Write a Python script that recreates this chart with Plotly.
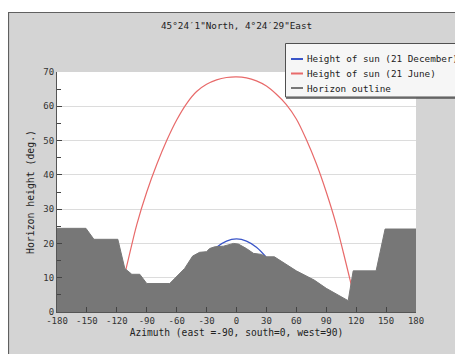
import plotly.graph_objects as go

# ---- data ----
title_text = "45°24′1\"North, 4°24′29\"East"
series_names = ["Height of sun (21 December)", "Height of sun (21 June)", "Horizon outline"]

dec_az = [-60, -50, -40, -30, -20, -10, 0, 10, 20, 30, 40, 50, 60]
dec_h = [1.0, 6.9, 11.9, 15.9, 18.9, 20.7, 21.3, 20.7, 18.9, 15.9, 11.9, 6.9, 1.0]

jun_az = [-118, -110, -100, -90, -80, -70, -60, -50, -40, -30, -20, -10, 0,
          10, 20, 30, 40, 50, 60, 70, 80, 90, 100, 110, 118]
jun_h = [4.0, 13.5, 25.5, 35.0, 43.0, 50.0, 56.0, 60.8, 64.3, 66.4, 67.7, 68.4, 68.6,
         68.3, 67.4, 65.9, 63.5, 60.5, 56.3, 50.3, 43.3, 35.0, 25.5, 14.0, 4.5]

hor_az = [-180, -151, -143, -119, -112, -105, -97, -90, -67, -52, -44, -37, -30, -27,
          -22, -13, -3, 2, 10, 17, 25, 30, 38, 48, 60, 78, 90, 112, 117, 140, 149, 180]
hor_h = [24.4, 24.4, 21.2, 21.2, 12.7, 11.0, 11.0, 8.3, 8.3, 12.7, 16.3, 17.4, 17.6, 18.5,
         19.0, 19.2, 20.0, 19.8, 18.5, 17.1, 16.8, 16.1, 16.1, 14.2, 12.0, 9.3, 6.9, 3.3,
         12.0, 12.0, 24.2, 24.2]

x_ticks = [-180, -150, -120, -90, -60, -30, 0, 30, 60, 90, 120, 150, 180]
y_ticks = [0, 10, 20, 30, 40, 50, 60, 70]

colors = ["#3a55c8", "#e86a6a", "#777777"]
FONT = "DejaVu Sans Mono"

OFF = 8  # page body margin
W, H = 463 - OFF, 354 - OFF
ML, MR, MT, MB = 57 - OFF, 463 - 416, 72 - OFF, 354 - 312
PW, PH = W - ML - MR, H - MT - MB


def px(p):  # screen pixel -> paper x
    return (p - OFF - ML) / PW


def py(p):  # screen pixel -> paper y
    return (H - MB - (p - OFF)) / PH


fig = go.Figure()
fig.add_trace(go.Scatter(x=dec_az, y=dec_h, mode="lines", name=series_names[0],
                         line=dict(color=colors[0], width=1.3, shape="spline"),
                         showlegend=False, hoverinfo="skip"))
fig.add_trace(go.Scatter(x=jun_az, y=jun_h, mode="lines", name=series_names[1],
                         line=dict(color=colors[1], width=1.2, shape="spline"),
                         showlegend=False, hoverinfo="skip"))
fig.add_trace(go.Scatter(x=hor_az, y=hor_h, mode="lines", name=series_names[2],
                         line=dict(color=colors[2], width=1), fill="tozeroy",
                         fillcolor=colors[2], showlegend=False, hoverinfo="skip"))

shapes = [
    # outer white margin at the top
    dict(type="rect", xref="paper", yref="paper", x0=px(0), x1=px(W + 20), y0=py(12), y1=py(0),
         fillcolor="white", line=dict(width=0), layer="above"),
    # panel border
    dict(type="rect", xref="paper", yref="paper", x0=px(8.5), x1=px(W + 30), y0=py(H + 30), y1=py(12.5),
         line=dict(color="#606060", width=1.2), layer="above"),
    # legend box
    dict(type="rect", xref="paper", yref="paper", x0=px(285.5), x1=px(W + 30), y0=py(97), y1=py(43.5),
         fillcolor="#f6f6f6", line=dict(color="#505050", width=1), layer="above"),
    dict(type="line", xref="paper", yref="paper", x0=px(286), x1=px(W + 30), y0=py(98), y1=py(98),
         line=dict(color="#555555", width=1.5), layer="above"),
]
legend_y = [59, 73.5, 88]
annotations = []
for name, c, yy in zip(series_names, colors, legend_y):
    shapes.append(dict(type="line", xref="paper", yref="paper", x0=px(291), x1=px(303),
                       y0=py(yy), y1=py(yy), line=dict(color=c, width=2), layer="above"))
    annotations.append(dict(text=name, xref="paper", yref="paper", x=px(305), y=py(yy),
                            xanchor="left", yanchor="middle", showarrow=False,
                            font=dict(family=FONT, size=9.3, color="#222222")))

annotations.append(dict(text=title_text, xref="paper", yref="paper", x=px(236), y=py(25),
                        xanchor="center", yanchor="middle", showarrow=False,
                        font=dict(family=FONT, size=9.3, color="#222222")))

fig.update_layout(
    width=W, height=H,
    margin=dict(l=ML, r=MR, t=MT, b=MB, pad=0),
    paper_bgcolor="#d4d4d4",
    plot_bgcolor="white",
    showlegend=False,
    shapes=shapes,
    annotations=annotations,
    font=dict(family=FONT, size=9, color="#333333"),
)
fig.update_xaxes(
    range=[-180, 180], tickvals=x_ticks, ticktext=[str(v) for v in x_ticks],
    showgrid=False, zeroline=False, showline=True, linecolor="#555555", linewidth=1,
    ticks="inside", ticklen=5, tickcolor="#444444",
    tickfont=dict(family=FONT, size=9, color="#333333"),
    title=dict(text="Azimuth (east =-90, south=0, west=90)",
               font=dict(family=FONT, size=9.6, color="#222222"), standoff=4),
)
fig.update_yaxes(
    range=[0, 70], tickvals=y_ticks, ticktext=[str(v) for v in y_ticks],
    showgrid=True, gridcolor="#dcdcdc", gridwidth=1, zeroline=False,
    showline=True, linecolor="#555555", linewidth=1,
    ticks="inside", ticklen=5, tickcolor="#444444",
    minor=dict(dtick=5, ticks="inside", ticklen=4, tickcolor="#444444", showgrid=False),
    tickfont=dict(family=FONT, size=9, color="#333333"),
    title=dict(text="Horizon height (deg.)",
               font=dict(family=FONT, size=9.8, color="#222222"), standoff=6),
)

fig.write_html("out.html")
